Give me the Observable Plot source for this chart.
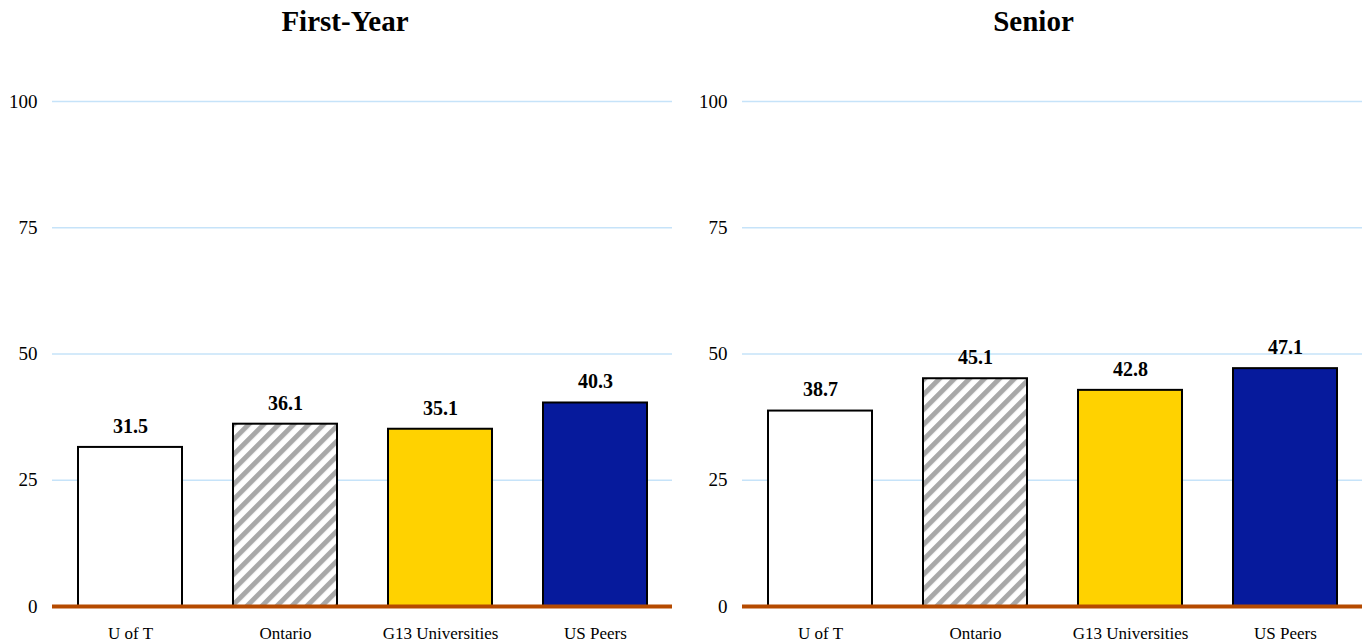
<!DOCTYPE html>
<html>
<head>
<meta charset="utf-8">
<script src="https://cdn.jsdelivr.net/npm/d3@7"></script>
<script src="https://cdn.jsdelivr.net/npm/@observablehq/plot@0.6"></script>
<style>
  body { margin: 0; background: #fff; }
  #wrap { display: flex; width: 1365px; height: 643px; overflow: hidden; }
  .panel { position: relative; }
  .title { height: 40px; line-height: 42px; text-align: center; font-family: "Liberation Serif", "Times New Roman", serif; font-weight: bold; font-size: 29px; color: #000; }
  svg { display: block; }
</style>
</head>
<body>
<div id="wrap"></div>
<script>
const categories = ["U of T", "Ontario", "G13 Universities", "US Peers"];
const panelTitles = ["First-Year", "Senior"];
const firstYearValues = [31.5, 36.1, 35.1, 40.3];
const seniorValues = [38.7, 45.1, 42.8, 47.1];
const yTicks = [0, 25, 50, 75, 100];

const panels = [
  {title: panelTitles[0], values: firstYearValues, width: 690, marginLeft: 52, marginRight: 18, id: "hatchA", titleShift: 0},
  {title: panelTitles[1], values: seniorValues, width: 675, marginLeft: 52, marginRight: 3, id: "hatchB", titleShift: 6}
];

const wrap = document.getElementById("wrap");
for (const p of panels) {
  const data = categories.map((c, i) => ({category: c, value: p.values[i]}));
  const div = document.createElement("div");
  div.className = "panel";
  div.style.width = p.width + "px";
  const t = document.createElement("div");
  t.className = "title";
  t.style.paddingLeft = (2 * p.titleShift) + "px";
  t.textContent = p.title;
  div.appendChild(t);
  const chart = Plot.plot({
    width: p.width,
    height: 603,
    marginTop: 61,
    marginBottom: 37,
    marginLeft: p.marginLeft,
    marginRight: p.marginRight,
    style: {fontFamily: "'Liberation Serif', 'Times New Roman', serif", fontSize: "17px", color: "#000", background: "#fff"},
    x: {domain: categories, paddingInner: 0.33, paddingOuter: 0.165, label: null, tickSize: 0, tickPadding: 20},
    y: {domain: [0, 100], ticks: yTicks, label: null, tickSize: 0, tickPadding: 15},
    color: {domain: categories, range: ["#ffffff", `url(#${p.id})`, "#ffd200", "#061a9c"]},
    marks: [
      Plot.ruleY(yTicks.filter(d => d > 0), {stroke: "#c6e3f9", strokeWidth: 1.4}),
      Plot.axisY({ticks: yTicks, tickSize: 0, tickPadding: 15, fontSize: 19, label: null}),
      Plot.axisX({tickSize: 0, tickPadding: 20, fontSize: 17, label: null}),
      Plot.barY(data, {x: "category", y: "value", fill: "category", stroke: "#000", strokeWidth: 2}),
      Plot.text(data, {x: "category", y: "value", text: d => d.value.toFixed(1), dy: -21, fontWeight: "bold", fontSize: 20}),
      Plot.ruleY([0], {stroke: "#b54a00", strokeWidth: 4})
    ]
  });
  const ns = "http://www.w3.org/2000/svg";
  const defs = document.createElementNS(ns, "defs");
  const pat = document.createElementNS(ns, "pattern");
  pat.setAttribute("id", p.id);
  pat.setAttribute("patternUnits", "userSpaceOnUse");
  pat.setAttribute("width", "10.6");
  pat.setAttribute("height", "10.6");
  pat.setAttribute("patternTransform", "rotate(45)");
  const bg = document.createElementNS(ns, "rect");
  bg.setAttribute("width", "10.6"); bg.setAttribute("height", "10.6"); bg.setAttribute("fill", "#fff");
  const ln = document.createElementNS(ns, "rect");
  ln.setAttribute("x", "0"); ln.setAttribute("y", "0"); ln.setAttribute("width", "5"); ln.setAttribute("height", "10.6"); ln.setAttribute("fill", "#a8a8a8");
  pat.appendChild(bg); pat.appendChild(ln);
  defs.appendChild(pat);
  chart.insertBefore(defs, chart.firstChild);
  div.appendChild(chart);
  wrap.appendChild(div);
}
</script>
</body>
</html>
